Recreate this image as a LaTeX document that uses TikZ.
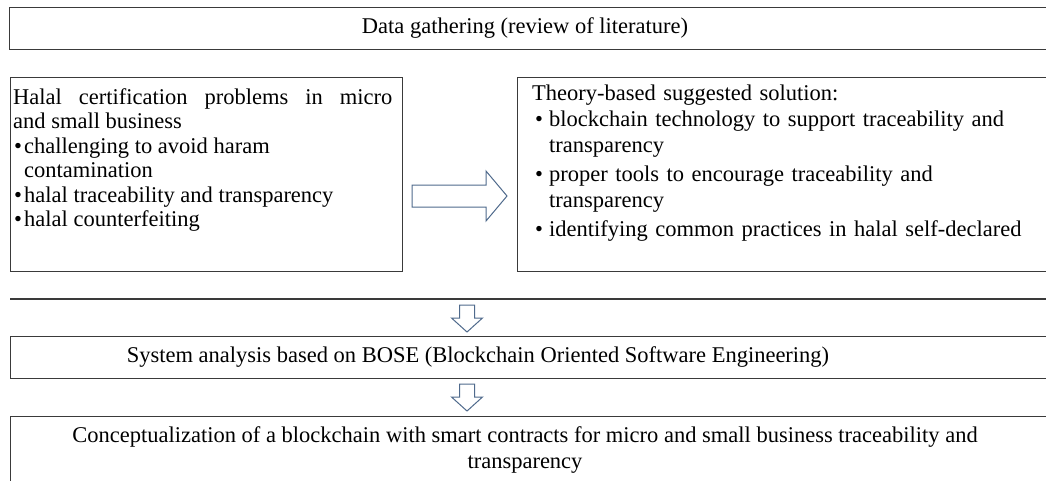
\documentclass[tikz,border=0pt]{standalone}
\usepackage{fontspec}
\setmainfont{Liberation Serif}
\usetikzlibrary{calc}
\definecolor{arrowc}{HTML}{4F6A8C}
\definecolor{boxc}{HTML}{3A3A3A}
\newcommand{\bitem}[3]{\par\hangindent=#1\hangafter=1\noindent\makebox[#1][l]{\hspace{#2}\textbullet}#3}
\begin{document}
\begin{tikzpicture}[x=1pt,y=-1pt,
  box/.style={draw=boxc, line width=1.2pt, inner sep=0pt, anchor=north west},
  blockarrow/.style={draw=arrowc, fill=white, line width=1pt, line join=miter},
  txt/.style={inner sep=0pt, font=\fontsize{22.5}{24.5}\selectfont}]
\useasboundingbox (0,0) rectangle (1046,480);
\clip (0,0) rectangle (1046,480);
% boxes
\node[box, minimum width=1051pt, minimum height=42pt] (topbox) at (9,7) {};
\node[box, minimum width=392pt, minimum height=194pt] (leftbox) at (10,77) {};
\node[box, minimum width=540pt, minimum height=194pt] (rightbox) at (517,77) {};
\coordinate (lineL) at (10,299);
\coordinate (lineR) at (1060,299);
\draw[draw=boxc, line width=1.2pt] (lineL) -- (lineR);
\node[box, minimum width=1050pt, minimum height=42pt] (sysbox) at (10,336) {};
\node[box, minimum width=1050pt, minimum height=80pt] (concbox) at (10,416) {};
% texts
\node[txt] (toptxt) at (525,28) {Data gathering (review of literature)};
\node[txt, anchor=north west, text width=379pt, align=justify] (lefttxt) at (13,88) {\parindent=0pt
Halal certification problems in micro\linebreak and small business
\bitem{11pt}{1pt}{challenging to avoid haram\\contamination}
\bitem{11pt}{1pt}{halal traceability and transparency}
\bitem{11pt}{1pt}{halal counterfeiting}};
\node[txt, anchor=north west, text width=510pt, align=left, font=\fontsize{22.5}{26}\selectfont] (righttxt) at (532,85) {\parindent=0pt
Theory-based suggested solution:
\bitem{17pt}{3pt}{blockchain technology to support traceability and\newline transparency}\par\vspace{3pt}
\bitem{17pt}{3pt}{proper tools to encourage traceability and\newline transparency}\par\vspace{3pt}
\bitem{17pt}{3pt}{identifying common practices in halal self-declared}};
\node[txt] (systxt) at (478,357) {System analysis based on BOSE (Blockchain Oriented Software Engineering)};
\node[txt, align=center, font=\fontsize{22.5}{26}\selectfont] (conctxt) at (525,450) {Conceptualization of a blockchain with smart contracts for micro and small business traceability and\\transparency};
% block arrows
\coordinate (ha) at (412,196);
\draw[blockarrow] (ha) ++(0,-11) -- ++(74,0) -- ++(0,-14) -- ++(21,25) -- ++(-21,25) -- ++(0,-14) -- ++(-74,0) -- cycle;
\coordinate (da1) at (467,305);
\draw[blockarrow] (da1) ++(-7.5,0) -- ++(15,0) -- ++(0,13) -- ++(8,0) -- ++(-15.5,14) -- ++(-15.5,-14) -- ++(8,0) -- cycle;
\coordinate (da2) at (467,384);
\draw[blockarrow] (da2) ++(-7.5,0) -- ++(15,0) -- ++(0,13) -- ++(8,0) -- ++(-15.5,14) -- ++(-15.5,-14) -- ++(8,0) -- cycle;
\end{tikzpicture}
\end{document}
